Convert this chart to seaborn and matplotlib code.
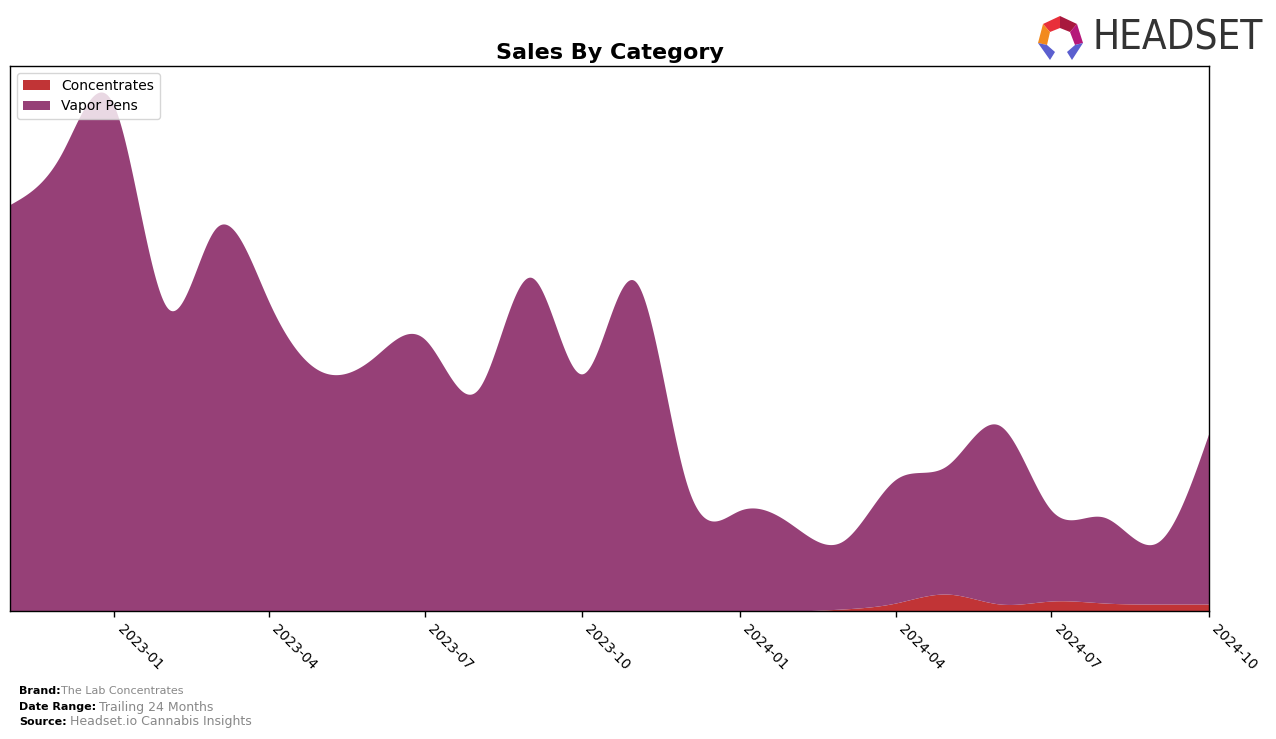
import numpy as np
import pandas as pd
import matplotlib
matplotlib.use("Agg")
import matplotlib.pyplot as plt
import seaborn as sns
from matplotlib.patches import Polygon

# ---- data (monthly, relative sales) ----
months = pd.date_range("2022-11-01", "2024-10-01", freq="MS")
concentrates = [0, 0, 0, 0, 0, 0, 0, 0, 0, 0, 0, 0, 0, 0, 0, 0,
                2, 8, 17, 7, 10, 8, 7, 7]
vapor_pens = [408, 459, 506, 304, 384, 311, 241, 254, 273, 222, 335, 238,
              331, 128, 101, 86, 68, 124, 129, 179, 91, 86, 62, 172]
categories = ["Concentrates", "Vapor Pens"]
colors = ["#c13436", "#964077"]

# ---- smoothing (natural cubic spline for display) ----
def spline(x, y, xs):
    x = np.asarray(x, float); y = np.asarray(y, float)
    n = len(x); h = np.diff(x)
    A = np.zeros((n, n)); b = np.zeros(n)
    A[0, 0] = 1; A[-1, -1] = 1
    for i in range(1, n - 1):
        A[i, i - 1] = h[i - 1]; A[i, i] = 2 * (h[i - 1] + h[i]); A[i, i + 1] = h[i]
        b[i] = 6 * ((y[i + 1] - y[i]) / h[i] - (y[i] - y[i - 1]) / h[i - 1])
    M = np.linalg.solve(A, b)
    idx = np.clip(np.searchsorted(x, xs) - 1, 0, n - 2)
    x0, x1 = x[idx], x[idx + 1]; hh = x1 - x0
    t0 = x1 - xs; t1 = xs - x0
    return (M[idx] * t0**3 / (6 * hh) + M[idx + 1] * t1**3 / (6 * hh)
            + (y[idx] / hh - M[idx] * hh / 6) * t0
            + (y[idx + 1] / hh - M[idx + 1] * hh / 6) * t1)

xd = matplotlib.dates.date2num(months)
xs = np.linspace(xd[0], xd[-1], 1000)
c_s = np.clip(spline(xd, concentrates, xs), 0, None)
v_s = np.clip(spline(xd, vapor_pens, xs), 0, None)

sns.set_style("white")
plt.rcParams["font.family"] = ["DejaVu Sans"]
plt.rcParams["text.color"] = "black"
plt.rcParams["xtick.color"] = "black"

fig = plt.figure(figsize=(12.76, 7.39), dpi=100)
ax = fig.add_axes([10 / 1276, 128 / 739, 1199 / 1276, 545 / 739])
ax.stackplot(matplotlib.dates.num2date(xs), c_s, v_s, colors=colors,
             labels=categories, linewidth=0)
ax.set_xlim(xd[0], xd[-1])
ax.set_ylim(0, (c_s + v_s).max() * 1.05)
ax.set_yticks([])
ticks = pd.date_range("2023-01-01", "2024-10-01", freq="3MS")
ax.set_xticks(matplotlib.dates.date2num(ticks))
ax.set_xticklabels([t.strftime("%Y-%m") for t in ticks], rotation=-45,
                   ha="left", va="top", fontsize=10, color="black")
ax.tick_params(axis="x", length=4, width=1, bottom=True, direction="out", pad=4)
for s in ax.spines.values():
    s.set_color("black"); s.set_linewidth(1)
leg = ax.legend(loc="upper left", fontsize=10, frameon=True, handlelength=2,
                borderpad=0.4, labelspacing=0.5)
for t in leg.get_texts():
    t.set_color("black")
ax.set_title("Sales By Category", fontsize=16, fontweight="bold", pad=5, color="black")

# footer
fig.text(19 / 1276, 1 - 691 / 739, "Brand:", fontsize=8, fontweight="bold", va="center")
fig.text(61 / 1276, 1 - 691 / 739, "The Lab Concentrates", fontsize=8, color="#888888", va="center")
fig.text(19 / 1276, 1 - 707 / 739, "Date Range:", fontsize=8, fontweight="bold", va="center")
fig.text(99 / 1276, 1 - 707 / 739, "Trailing 24 Months", fontsize=9, color="#888888", va="center")
fig.text(19 / 1276, 1 - 722 / 739, "Source:", fontsize=8, fontweight="bold", va="center")
fig.text(70 / 1276, 1 - 722 / 739, "Headset.io Cannabis Insights", fontsize=9, color="#888888", va="center")

# logo
fig.text(1092 / 1276, 1 - 39 / 739, "HEADSET", fontsize=29, color="#333333",
         va="center", ha="left", fontstretch="condensed")
def px(pts):
    return [(x / 1276, 1 - y / 739) for x, y in pts]
logo = [
    ([(1043, 24), (1060, 16), (1060, 28), (1050, 32)], "#e8303a"),
    ([(1060, 16), (1077, 24), (1070, 32), (1060, 28)], "#a8183e"),
    ([(1077, 24), (1083, 43), (1075, 45), (1070, 32)], "#b5177a"),
    ([(1043, 24), (1050, 32), (1047, 45), (1038, 43)], "#f28a1e"),
    ([(1038, 43), (1047, 45), (1055, 52), (1050, 60)], "#5b5fcf"),
    ([(1083, 43), (1075, 45), (1067, 52), (1072, 60)], "#5b5fcf"),
]
for pts, col in logo:
    fig.patches.append(Polygon(px(pts), closed=True, facecolor=col,
                               edgecolor="none", transform=fig.transFigure))

fig.savefig("out.png", dpi=100)
